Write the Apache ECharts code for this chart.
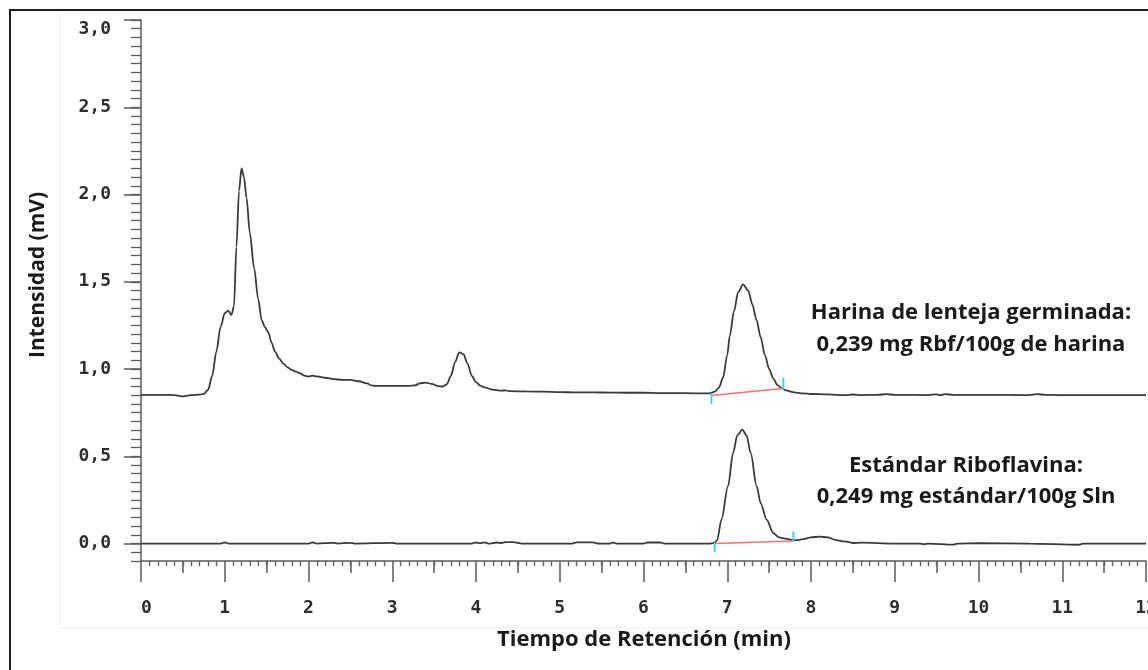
<!DOCTYPE html>
<html><head><meta charset="utf-8">
<script src="https://cdn.jsdelivr.net/npm/echarts@6/dist/echarts.min.js"></script>
<style>html,body{margin:0;padding:0;background:#fff}#c{width:1148px;height:670px}</style>
</head><body><div id="c"></div>
<script>
// Chromatogram: Harina de lenteja germinada (upper trace), time (min) / intensity (mV)
const harinaTime = [0,0.2,0.4,0.45,0.5,0.55,0.6,0.7,0.75,0.8,0.85,0.9,0.95,1.0,1.04,1.08,1.11,1.14,1.17,1.2,1.23,1.26,1.3,1.35,1.4,1.44,1.48,1.52,1.56,1.6,1.65,1.7,1.75,1.8,1.85,1.9,1.95,2.0,2.05,2.1,2.2,2.3,2.4,2.5,2.6,2.7,2.75,2.8,3.0,3.2,3.27,3.33,3.4,3.47,3.55,3.6,3.65,3.7,3.75,3.8,3.85,3.9,3.95,4.0,4.05,4.1,4.2,4.3,4.35,4.4,4.6,4.8,5.0,5.2,5.4,5.6,5.8,6.0,6.2,6.4,6.6,6.75,6.8,6.85,6.9,6.95,7.0,7.03,7.08,7.13,7.19,7.25,7.3,7.35,7.4,7.45,7.5,7.55,7.6,7.65,7.7,7.8,7.9,8.0,8.2,8.4,8.5,8.6,8.8,8.9,9.0,9.4,9.5,9.55,9.6,9.7,10.0,10.6,10.7,10.8,11.2,12.0];
const harinaValue = [0.852,0.852,0.851,0.846,0.843,0.846,0.851,0.853,0.858,0.88,0.96,1.10,1.24,1.32,1.335,1.31,1.36,1.70,2.02,2.15,2.10,1.98,1.78,1.58,1.40,1.28,1.24,1.21,1.15,1.10,1.06,1.03,1.01,0.995,0.985,0.975,0.962,0.957,0.962,0.958,0.95,0.942,0.938,0.938,0.93,0.918,0.906,0.904,0.904,0.903,0.906,0.918,0.922,0.915,0.902,0.900,0.912,0.96,1.04,1.095,1.085,1.03,0.96,0.925,0.905,0.895,0.882,0.876,0.878,0.873,0.872,0.870,0.868,0.866,0.866,0.865,0.864,0.864,0.862,0.862,0.861,0.860,0.862,0.870,0.893,0.95,1.08,1.19,1.33,1.44,1.485,1.45,1.37,1.28,1.18,1.08,1.0,0.945,0.908,0.89,0.878,0.866,0.860,0.857,0.855,0.850,0.854,0.851,0.852,0.856,0.852,0.851,0.855,0.850,0.856,0.852,0.852,0.851,0.856,0.852,0.850,0.850];

// Estándar Riboflavina (lower trace)
const estandarTime = [0,0.5,0.95,1.0,1.05,1.8,2.0,2.05,2.1,2.3,2.35,2.5,2.55,3.0,3.05,3.95,4.0,4.05,4.1,4.15,4.25,4.3,4.35,4.45,4.55,5.15,5.2,5.4,5.45,5.6,5.63,5.68,6.0,6.05,6.2,6.25,6.8,6.85,6.88,6.93,7.01,7.07,7.12,7.18,7.23,7.28,7.35,7.4,7.47,7.55,7.62,7.7,7.78,7.85,7.9,8.0,8.1,8.2,8.3,8.4,8.5,8.6,9.0,9.3,9.35,9.4,9.7,9.75,10.0,10.6,11.2,11.25,12.0];
const estandarValue = [0.0,0.0,0.0,0.006,0.0,0.0,0.0,0.006,0.0,0.004,0.0,0.004,0.0,0.004,0.0,0.0,0.006,0.002,0.007,0.0,0.006,0.003,0.008,0.008,0.0,0.0,0.007,0.007,0.0,0.0,0.006,0.0,0.0,0.006,0.006,0.0,0.0,0.005,0.02,0.137,0.33,0.52,0.62,0.653,0.62,0.52,0.33,0.23,0.137,0.06,0.035,0.028,0.02,0.02,0.025,0.035,0.04,0.035,0.02,0.012,0.003,0.005,0.0,0.0,-0.005,0.0,-0.006,0.0,0.002,0.0,-0.007,0.0,0.0];

// Integration baselines (red) and peak limit marks (cyan)
const harinaBaseTime = [6.81, 7.66];
const harinaBaseValue = [0.848, 0.888];
const estandarBaseTime = [6.85, 7.79];
const estandarBaseValue = [0.0, 0.015];
const limitMarks = [
  [[6.81, 0.80], [6.81, 0.86]],
  [[7.67, 0.882], [7.67, 0.95]],
  [[6.85, -0.05], [6.85, 0.006]],
  [[7.79, 0.011], [7.79, 0.069]]
];

const yTickLabels = [0,0.5,1.0,1.5,2.0,2.5,3.0];
const halfTicks = [0.5,1.5,2.5,3.5,4.5,5.5,6.5,7.5,8.5,9.5,10.5,11.5];

const zip = (a, b) => a.map((t, i) => [t, b[i]]);

const chart = echarts.init(document.getElementById('c'), null, {renderer: 'canvas'});
const axisCol = '#5a5a5a';
const labelFont = {fontFamily: 'DejaVu Sans Mono', fontSize: 18, fontWeight: 'bold', color: '#2e2e2e'};

const series = [
  {type: 'line', data: zip(harinaTime, harinaValue), showSymbol: false, smooth: 0.3, smoothMonotone: 'x',
   lineStyle: {color: '#3a3a3a', width: 1.8}, z: 3},
  {type: 'line', data: zip(estandarTime, estandarValue), showSymbol: false, smooth: 0.3, smoothMonotone: 'x',
   lineStyle: {color: '#3a3a3a', width: 1.8}, z: 3},
  {type: 'line', data: zip(harinaBaseTime, harinaBaseValue), showSymbol: false, lineStyle: {color: '#ff6f6f', width: 1.6}, z: 4},
  {type: 'line', data: zip(estandarBaseTime, estandarBaseValue), showSymbol: false, lineStyle: {color: '#ff6f6f', width: 1.6}, z: 4}
];
limitMarks.forEach(m => series.push({type: 'line', data: m, showSymbol: false, lineStyle: {color: '#3fd3e0', width: 2}, z: 5}));

chart.setOption({
  animation: false,
  backgroundColor: '#fff',
  grid: {left: 141, right: 2, top: 20, bottom: 109, containLabel: false, outerBoundsMode: 'none'},
  xAxis: [
    {type: 'value', min: 0, max: 12, interval: 1,
     axisLine: {onZero: false, lineStyle: {color: axisCol, width: 1.5}},
     axisTick: {length: 21, lineStyle: {color: axisCol, width: 1.5}},
     minorTick: {show: true, splitNumber: 10, length: 5, lineStyle: {color: axisCol, width: 1.3}},
     splitLine: {show: false}, minorSplitLine: {show: false},
     axisLabel: Object.assign({margin: 38, showMinLabel: true, showMaxLabel: true, alignMinLabel: 'left', hideOverlap: false}, labelFont)},
    {type: 'value', min: 0, max: 12, position: 'bottom',
     axisLine: {show: false, onZero: false},
     axisTick: {length: 12, customValues: halfTicks, lineStyle: {color: axisCol, width: 1.5}},
     axisLabel: {show: false}, splitLine: {show: false}}
  ],
  yAxis: [
    {type: 'value', min: -0.1, max: 3.0, interval: 0.05,
     axisLine: {show: true, onZero: false, lineStyle: {color: axisCol, width: 1.5}},
     axisTick: {show: true, length: 17, customValues: yTickLabels, lineStyle: {color: axisCol, width: 1.5}},
     splitLine: {show: false},
     axisLabel: Object.assign({margin: 30, customValues: yTickLabels, verticalAlignMaxLabel: 'top',
       formatter: v => v.toFixed(1).replace('.', ',')}, labelFont)},
    {type: 'value', min: -0.1, max: 3.0, interval: 0.05, position: 'left',
     axisLine: {show: false, onZero: false},
     axisTick: {show: true, length: 10, lineStyle: {color: axisCol, width: 1.3}},
     axisLabel: {show: false}, splitLine: {show: false}}
  ],
  series: series,
  graphic: [
    {type: 'rect', shape: {x: 60, y: 14, width: 1100, height: 614}, style: {fill: null, stroke: '#efefef', lineWidth: 1}, z: -1},
    {type: 'rect', shape: {x: 10, y: 10, width: 1150, height: 680}, style: {fill: null, stroke: '#1e1e1e', lineWidth: 2}},
    {type: 'text', x: 38, y: 275, rotation: Math.PI / 2,
     style: {text: 'Intensidad (mV)', textAlign: 'center', textVerticalAlign: 'middle', font: 'bold 21px "Open Sans"', fill: '#1a1a1a'}},
    {type: 'text', x: 644, y: 640,
     style: {text: 'Tiempo de Retención (min)', textAlign: 'center', textVerticalAlign: 'middle', font: 'bold 22px "Open Sans"', fill: '#1a1a1a'}},
    {type: 'text', x: 971, y: 313,
     style: {text: 'Harina de lenteja germinada:', textAlign: 'center', textVerticalAlign: 'middle', font: 'bold 22px "Open Sans"', fill: '#1a1a1a'}},
    {type: 'text', x: 971, y: 345,
     style: {text: '0,239 mg Rbf/100g de harina', textAlign: 'center', textVerticalAlign: 'middle', font: 'bold 22px "Open Sans"', fill: '#1a1a1a'}},
    {type: 'text', x: 966, y: 466,
     style: {text: 'Estándar Riboflavina:', textAlign: 'center', textVerticalAlign: 'middle', font: 'bold 22px "Open Sans"', fill: '#1a1a1a'}},
    {type: 'text', x: 966, y: 497,
     style: {text: '0,249 mg estándar/100g Sln', textAlign: 'center', textVerticalAlign: 'middle', font: 'bold 22px "Open Sans"', fill: '#1a1a1a'}}
  ]
});
</script></body></html>
